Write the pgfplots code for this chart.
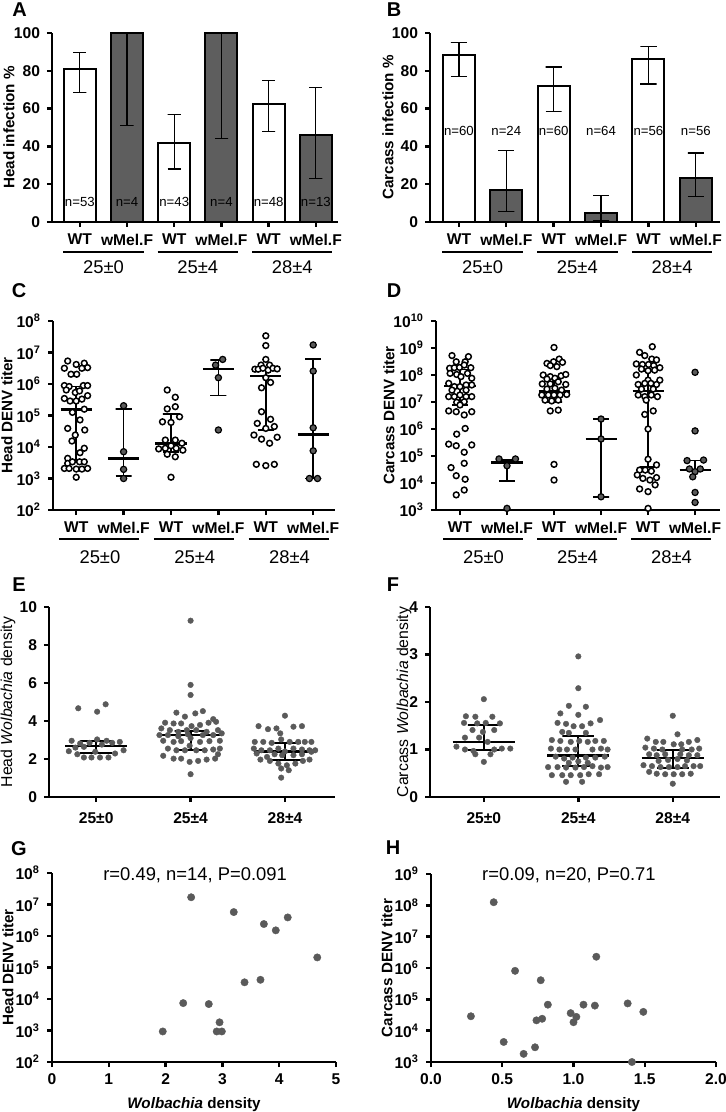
\documentclass[border=0pt]{standalone}
\usepackage{fontspec}
\setmainfont{Liberation Sans}
\usepackage{pgfplots}
\pgfplotsset{compat=1.18}
\definecolor{bargray}{HTML}{5E5E5E}
\definecolor{dotgray}{HTML}{5A5A5A}
\newcommand\tf{\bfseries\fontsize{7.8}{9}\selectfont}
\newcommand\lf{\bfseries\fontsize{7.6}{9}\selectfont}
\newcommand\rf{\fontsize{7.9}{9}\selectfont}
\newcommand\gf{\fontsize{9.2}{11}\selectfont}
\newcommand\nf{\fontsize{6.6}{8}\selectfont}
\newcommand\pf{\bfseries\fontsize{10}{12}\selectfont}
\newcommand\af{\fontsize{9.2}{11}\selectfont}
\pgfplotsset{
  base/.style={scale only axis, anchor=south west,
    axis x line*=bottom, axis y line*=left,
    axis line style={line width=1.2pt, black},
    tick align=outside, major tick length=2.5pt,
    tick style={line width=1.2pt, black},
    clip=false, tick label style={font=\tf}},
  ebar/.style={black, line width=0.8pt, mark=none, forget plot, line join=bevel},
  med/.style={black, line width=1.3pt, mark=none, forget plot},
  opn/.style={only marks, mark=*, mark size=1.45pt, mark options={fill=white, draw=black, line width=0.75pt}},
  dkd/.style={only marks, mark=*, mark size=1.55pt, mark options={fill=dotgray, draw=black, line width=0.6pt}},
  gdot/.style={only marks, mark=*, mark size=1.4pt, mark options={fill=dotgray, draw=dotgray, line width=0.2pt}},
  bdot/.style={only marks, mark=*, mark size=1.85pt, mark options={fill=dotgray, draw=dotgray, line width=0.2pt}},
}
\begin{document}
\begin{tikzpicture}
\useasboundingbox (0,0) rectangle (362.5pt,-556pt);
% panel letters
\node[font=\pf] at (9.75pt,-5pt) {A};
\node[font=\pf] at (197pt,-5pt) {B};
\node[font=\pf] at (9.5pt,-145.5pt) {C};
\node[font=\pf] at (197pt,-145.5pt) {D};
\node[font=\pf] at (9.5pt,-292.5pt) {E};
\node[font=\pf] at (196.5pt,-292.5pt) {F};
\node[font=\pf] at (9.5pt,-424.5pt) {G};
\node[font=\pf] at (196.5pt,-424pt) {H};

% ================= A =================
\begin{axis}[base, at={(26pt,-111pt)}, width=143pt, height=94.5pt,
  xmin=-0.59, xmax=5.47, ymin=0, ymax=100,
  ytick={0,20,40,60,80,100}, yticklabels={0,20,40,60,80,100},
  xtick={0,1,2,3,4,5}, xticklabels={WT,wMel.F,WT,wMel.F,WT,wMel.F}]
\addplot[ybar, bar width=16pt, bar shift=0pt, fill=white, draw=black, line width=1pt] coordinates {(0,81) (2,42) (4,62.5)};
\addplot[ybar, bar width=16pt, bar shift=0pt, fill=bargray, draw=black, line width=1pt] coordinates {(1,100) (3,100) (5,46)};
\addplot[ebar, line width=0.6pt] coordinates {(-0.14,68.5)(0.14,68.5)(0,68.5)(0,89.5)(-0.14,89.5)(0.14,89.5)};
\addplot[ebar, line width=0.6pt] coordinates {(0.86,51)(1.14,51)(1,51)(1,100)(0.86,100)(1.14,100)};
\addplot[ebar, line width=0.6pt] coordinates {(1.86,28)(2.14,28)(2,28)(2,57)(1.86,57)(2.14,57)};
\addplot[ebar, line width=0.6pt] coordinates {(2.86,44)(3.14,44)(3,44)(3,100)(2.86,100)(3.14,100)};
\addplot[ebar, line width=0.6pt] coordinates {(3.86,48)(4.14,48)(4,48)(4,75)(3.86,75)(4.14,75)};
\addplot[ebar, line width=0.6pt] coordinates {(4.86,23)(5.14,23)(5,23)(5,71)(4.86,71)(5.14,71)};
\node[font=\nf] at (axis cs:0,10.5) {n=53};
\node[font=\nf] at (axis cs:1,10.5) {n=4};
\node[font=\nf] at (axis cs:2,10.5) {n=43};
\node[font=\nf] at (axis cs:3,10.5) {n=4};
\node[font=\nf] at (axis cs:4,10.5) {n=48};
\node[font=\nf] at (axis cs:5,10.5) {n=13};
\draw[line width=0.8pt] ([yshift=-15pt]axis cs:-0.35,0) -- ([yshift=-15pt]axis cs:1.35,0);
\draw[line width=0.8pt] ([yshift=-15pt]axis cs:1.65,0) -- ([yshift=-15pt]axis cs:3.35,0);
\draw[line width=0.8pt] ([yshift=-15pt]axis cs:3.65,0) -- ([yshift=-15pt]axis cs:5.35,0);
\node[font=\gf] at ([yshift=-22.5pt]axis cs:0.5,0) {25±0};
\node[font=\gf] at ([yshift=-22.5pt]axis cs:2.5,0) {25±4};
\node[font=\gf] at ([yshift=-22.5pt]axis cs:4.5,0) {28±4};
\node[rotate=90, font=\lf] at ([xshift=-21.5pt]rel axis cs:0,0.5) {Head infection \%};
\end{axis}

% ================= B =================
\begin{axis}[base, at={(215pt,-111pt)}, width=145pt, height=94.5pt,
  xmin=-0.61, xmax=5.51, ymin=0, ymax=100,
  ytick={0,20,40,60,80,100}, yticklabels={0,20,40,60,80,100},
  xtick={0,1,2,3,4,5}, xticklabels={WT,wMel.F,WT,wMel.F,WT,wMel.F}]
\addplot[ybar, bar width=16pt, bar shift=0pt, fill=white, draw=black, line width=1pt] coordinates {(0,88.5) (2,72) (4,86)};
\addplot[ybar, bar width=16pt, bar shift=0pt, fill=bargray, draw=black, line width=1pt] coordinates {(1,17) (3,5) (5,23.5)};
\addplot[ebar, line width=0.6pt] coordinates {(-0.17,77)(0.17,77)(0,77)(0,95)(-0.17,95)(0.17,95)};
\addplot[ebar, line width=0.6pt] coordinates {(0.83,5.5)(1.17,5.5)(1,5.5)(1,38)(0.83,38)(1.17,38)};
\addplot[ebar, line width=0.6pt] coordinates {(1.83,58.5)(2.17,58.5)(2,58.5)(2,82)(1.83,82)(2.17,82)};
\addplot[ebar, line width=0.6pt] coordinates {(2.83,1)(3.17,1)(3,1)(3,14)(2.83,14)(3.17,14)};
\addplot[ebar, line width=0.6pt] coordinates {(3.83,73)(4.17,73)(4,73)(4,93)(3.83,93)(4.17,93)};
\addplot[ebar, line width=0.6pt] coordinates {(4.83,13.5)(5.17,13.5)(5,13.5)(5,36.5)(4.83,36.5)(5.17,36.5)};
\node[font=\nf] at (axis cs:0,48.3) {n=60};
\node[font=\nf] at (axis cs:1,48.3) {n=24};
\node[font=\nf] at (axis cs:2,48.3) {n=60};
\node[font=\nf] at (axis cs:3,48.3) {n=64};
\node[font=\nf] at (axis cs:4,48.3) {n=56};
\node[font=\nf] at (axis cs:5,48.3) {n=56};
\draw[line width=0.8pt] ([yshift=-15pt]axis cs:-0.35,0) -- ([yshift=-15pt]axis cs:1.35,0);
\draw[line width=0.8pt] ([yshift=-15pt]axis cs:1.65,0) -- ([yshift=-15pt]axis cs:3.35,0);
\draw[line width=0.8pt] ([yshift=-15pt]axis cs:3.65,0) -- ([yshift=-15pt]axis cs:5.35,0);
\node[font=\gf] at ([yshift=-22.5pt]axis cs:0.5,0) {25±0};
\node[font=\gf] at ([yshift=-22.5pt]axis cs:2.5,0) {25±4};
\node[font=\gf] at ([yshift=-22.5pt]axis cs:4.5,0) {28±4};
\node[rotate=90, font=\lf] at ([xshift=-21pt]rel axis cs:0,0.5) {Carcass infection \%};
\end{axis}

% ================= C =================
\begin{axis}[base, at={(26.5pt,-255pt)}, width=141pt, height=94.5pt,
  xmin=-0.49, xmax=5.46, ymin=2, ymax=8,
  ytick={2,3,4,5,6,7,8},
  yticklabels={10\textsuperscript{2},10\textsuperscript{3},10\textsuperscript{4},10\textsuperscript{5},10\textsuperscript{6},10\textsuperscript{7},10\textsuperscript{8}},
  xtick={0,1,2,3,4,5}, xticklabels={WT,wMel.F,WT,wMel.F,WT,wMel.F}]
% WT (open circles), y = log10 titer
\addplot[opn] coordinates {
(-0.18,6.73)(0,6.62)(0.17,6.66)(-0.25,6.50)(-0.11,6.31)(0.01,6.31)(0.12,6.50)(0.24,6.52)
(-0.25,5.95)(-0.15,5.92)(0.15,5.95)(0.24,5.95)(-0.02,5.73)(0.07,5.78)(-0.21,5.81)
(-0.25,5.54)(-0.13,5.46)(0,5.46)(0.12,5.52)(0.24,5.63)(-0.08,5.10)(0.17,5.20)(0.08,4.86)
(-0.18,4.59)(0.18,4.54)(-0.02,4.38)(-0.09,4.19)(0.17,3.96)(0.08,3.82)(-0.18,3.64)
(-0.18,3.48)(-0.08,3.53)(0.07,3.53)(0.17,3.53)(-0.25,3.32)(-0.15,3.32)(0,3.30)(0.12,3.30)(0.24,3.32)(0,3.04)
(1.92,5.81)(2.09,5.58)(1.92,5.21)(2.09,5.28)(1.82,4.80)(2,4.78)(2.18,4.96)(1.88,4.22)(2.09,4.22)
(2.23,4.12)(1.74,3.94)(1.88,3.96)(2,4.04)(2.11,3.96)(2.25,3.90)(1.92,3.77)(2.09,3.69)(2,3.04)
(4,7.53)(4,7.22)(4,6.78)(3.9,6.60)(4.08,6.60)(3.77,6.47)(3.84,6.47)(3.94,6.50)(4.05,6.44)(4.15,6.50)
(4.24,6.48)(4,6.20)(3.91,5.88)(4.1,6.05)(3.91,5.12)(4.1,4.88)(3.82,4.75)(4,4.59)(4.18,4.65)
(3.75,4.38)(3.91,4.25)(4.24,4.31)(4.08,4.12)(3.8,3.45)(4,3.41)(4.18,3.45)};
% wMel.F (filled)
\addplot[dkd] coordinates {(1,5.31)(1,3.85)(1,3.29)(1,3.0)
(3.09,6.78)(2.94,6.60)(3,6.2)(3,4.54)
(5,7.24)(5,6.41)(5,4.61)(5,3.88)(4.92,3.0)(5.09,3.0)};
% medians and IQR
\addplot[med] coordinates {(-0.33,5.2)(0.33,5.2)};
\addplot[med] coordinates {(0.67,3.64)(1.33,3.64)};
\addplot[med] coordinates {(1.67,4.12)(2.33,4.12)};
\addplot[med] coordinates {(2.67,6.47)(3.33,6.47)};
\addplot[med] coordinates {(3.67,6.26)(4.33,6.26)};
\addplot[med] coordinates {(4.67,4.40)(5.33,4.40)};
\addplot[ebar] coordinates {(-0.17,3.55)(0.17,3.55)(0,3.55)(0,5.92)(-0.17,5.92)(0.17,5.92)};
\addplot[ebar] coordinates {(0.83,3.08)(1.17,3.08)(1,3.08)(1,5.2)(0.83,5.2)(1.17,5.2)};
\addplot[ebar] coordinates {(1.83,3.85)(2.17,3.85)(2,3.85)(2,5.05)(1.83,5.05)(2.17,5.05)};
\addplot[ebar] coordinates {(2.83,5.63)(3.17,5.63)(3,5.63)(3,6.76)(2.83,6.76)(3.17,6.76)};
\addplot[ebar] coordinates {(3.83,4.54)(4.17,4.54)(4,4.54)(4,6.44)(3.83,6.44)(4.17,6.44)};
\addplot[ebar] coordinates {(4.83,3.0)(5.17,3.0)(5,3.0)(5,6.79)(4.83,6.79)(5.17,6.79)};
\draw[line width=0.8pt] ([yshift=-14.5pt]axis cs:-0.36,2) -- ([yshift=-14.5pt]axis cs:1.33,2);
\draw[line width=0.8pt] ([yshift=-14.5pt]axis cs:1.64,2) -- ([yshift=-14.5pt]axis cs:3.33,2);
\draw[line width=0.8pt] ([yshift=-14.5pt]axis cs:3.64,2) -- ([yshift=-14.5pt]axis cs:5.33,2);
\node[font=\gf] at ([yshift=-23.5pt]axis cs:0.5,2) {25±0};
\node[font=\gf] at ([yshift=-23.5pt]axis cs:2.5,2) {25±4};
\node[font=\gf] at ([yshift=-23.5pt]axis cs:4.5,2) {28±4};
\node[rotate=90, font=\lf] at ([xshift=-23pt]rel axis cs:0,0.5) {Head DENV titer};
\end{axis}

% ================= D =================
\begin{axis}[base, at={(218pt,-255pt)}, width=142pt, height=94.5pt,
  xmin=-0.51, xmax=5.53, ymin=3, ymax=10,
  ytick={3,4,5,6,7,8,9,10},
  yticklabels={10\textsuperscript{3},10\textsuperscript{4},10\textsuperscript{5},10\textsuperscript{6},10\textsuperscript{7},10\textsuperscript{8},10\textsuperscript{9},10\textsuperscript{10}},
  xtick={0,1,2,3,4,5}, xticklabels={WT,wMel.F,WT,wMel.F,WT,wMel.F}]
\addplot[opn] coordinates {
(-0.17,8.72)(0.18,8.68)(-0.08,8.49)(0.11,8.49)(-0.22,8.25)(-0.12,8.27)(-0.01,8.28)(0.09,8.37)(0.23,8.27)
(-0.21,8.06)(-0.07,8.02)(0.16,8.06)(0.02,7.94)(0.25,7.88)(-0.24,7.69)(-0.12,7.57)(0,7.57)(0.13,7.63)
(0.25,7.63)(-0.17,7.44)(0.13,7.44)(-0.24,7.2)(-0.12,7.2)(0,7.26)(0.13,7.2)(0.25,7.2)(-0.07,6.99)
(0.09,7.01)(0,6.89)(-0.24,6.67)(-0.08,6.64)(0.09,6.52)(0.25,6.64)(0.11,6.02)(-0.07,5.81)(-0.24,5.44)
(-0.08,5.38)(0.25,5.41)(0.09,5.14)(0.09,4.73)(-0.19,4.57)(-0.08,4.27)(0.11,4.14)(0.09,3.74)(-0.08,3.56)
(2,9.02)(1.85,8.43)(1.99,8.49)(2.11,8.59)(2.18,8.47)(1.92,8.35)(2.06,8.31)(1.77,8.0)(1.92,7.94)
(2.15,7.97)(2.25,8.02)(1.85,7.85)(2.02,7.88)(1.75,7.67)(1.92,7.67)(2.09,7.75)(2.25,7.65)(1.85,7.48)
(2.02,7.51)(2.16,7.44)(1.74,7.26)(1.88,7.26)(2,7.26)(2.13,7.26)(2.27,7.28)(1.81,7.07)(1.95,7.04)
(2.09,7.07)(1.92,6.67)(2.09,6.70)(2,4.69)(2,4.11)
(4.09,9.05)(3.82,8.84)(3.93,8.72)(4.08,8.59)(4.18,8.56)(3.75,8.41)(3.88,8.39)(4.01,8.39)(4.12,8.35)
(4.25,8.27)(3.86,8.22)(4,8.16)(4.14,8.18)(3.75,8.0)(4,7.81)(4.25,7.81)(3.79,7.65)(3.93,7.69)(4.06,7.69)
(4.18,7.65)(3.86,7.48)(4.11,7.48)(3.79,7.26)(3.93,7.2)(4.07,7.26)(4.2,7.2)(3.96,7.07)(3.93,6.54)
(4.11,6.67)(4,6.0)(4,4.88)(4.18,4.67)(3.82,4.48)(3.94,4.48)(4.07,4.44)(3.77,4.3)(3.89,4.17)(4.04,4.11)
(4.18,4.2)(4.15,3.93)(3.82,3.78)(4,3.68)(4,3.06)};
\addplot[dkd] coordinates {(0.83,4.89)(1.18,4.89)(1,4.64)(1,3.06)
(3,6.37)(3,5.63)(3,3.49)
(5,8.1)(5,5.93)(4.83,4.83)(5.18,4.85)(4.88,4.52)(5,4.42)(5.11,4.52)(4.95,4.23)(5,3.65)(5,3.28)};
\addplot[med] coordinates {(-0.33,7.59)(0.33,7.59)};
\addplot[med] coordinates {(0.67,4.77)(1.33,4.77)};
\addplot[med] coordinates {(1.67,7.38)(2.33,7.38)};
\addplot[med] coordinates {(2.67,5.63)(3.33,5.63)};
\addplot[med] coordinates {(3.67,7.41)(4.33,7.41)};
\addplot[med] coordinates {(4.67,4.48)(5.33,4.48)};
\addplot[ebar] coordinates {(-0.17,6.9)(0.17,6.9)(0,6.9)(0,8.2)(-0.17,8.2)(0.17,8.2)};
\addplot[ebar] coordinates {(0.83,4.08)(1.17,4.08)(1,4.08)(1,4.85)(0.83,4.85)(1.17,4.85)};
\addplot[ebar] coordinates {(1.83,7.0)(2.17,7.0)(2,7.0)(2,7.92)(1.83,7.92)(2.17,7.92)};
\addplot[ebar] coordinates {(2.83,3.49)(3.17,3.49)(3,3.49)(3,6.37)(2.83,6.37)(3.17,6.37)};
\addplot[ebar] coordinates {(3.83,4.6)(4.17,4.6)(4,4.6)(4,8.15)(3.83,8.15)(4.17,8.15)};
\addplot[ebar] coordinates {(4.83,4.42)(5.17,4.42)(5,4.42)(5,4.83)(4.83,4.83)(5.17,4.83)};
\draw[line width=0.8pt] ([yshift=-14.5pt]axis cs:-0.36,3) -- ([yshift=-14.5pt]axis cs:1.33,3);
\draw[line width=0.8pt] ([yshift=-14.5pt]axis cs:1.64,3) -- ([yshift=-14.5pt]axis cs:3.33,3);
\draw[line width=0.8pt] ([yshift=-14.5pt]axis cs:3.64,3) -- ([yshift=-14.5pt]axis cs:5.33,3);
\node[font=\gf] at ([yshift=-23.5pt]axis cs:0.5,3) {25±0};
\node[font=\gf] at ([yshift=-23.5pt]axis cs:2.5,3) {25±4};
\node[font=\gf] at ([yshift=-23.5pt]axis cs:4.5,3) {28±4};
\node[rotate=90, font=\lf] at ([xshift=-23.5pt]rel axis cs:0,0.5) {Carcass DENV titer};
\end{axis}

% ================= E =================
\begin{axis}[base, at={(24.5pt,-398.5pt)}, width=143pt, height=95pt,
  xmin=-0.5, xmax=2.53, ymin=0, ymax=10,
  ytick={0,2,4,6,8,10}, yticklabels={0,2,4,6,8,10},
  xtick={0,1,2}, xticklabels={25±0,25±4,28±4},
  xticklabel style={yshift=-2pt}]
\addplot[gdot] coordinates {
(-0.19,4.67)(0.01,4.49)(0.1,4.88)(-0.26,2.96)(-0.17,2.82)(-0.07,2.85)(0.01,3.03)(0.11,2.96)(-0.29,2.41)
(-0.13,2.64)(0.06,2.76)(0.17,2.85)(0.25,2.9)(0.29,2.46)(-0.2,2.25)(-0.13,2.08)(-0.05,2.08)(0.04,2.08)
(0.13,2.08)(0.2,2.29)(-0.01,2.38)(-0.22,2.6)
(1,9.28)(1,5.9)(1,5.37)(0.85,4.44)(0.94,4.23)(1.05,4.4)(1.13,4.52)(1.24,4.1)(0.73,3.91)(0.82,3.87)
(0.9,3.87)(1.01,3.73)(1.1,3.79)(1.19,3.91)(1.27,3.96)(0.69,3.61)(0.78,3.52)(0.87,3.43)(0.96,3.52)
(1.06,3.52)(1.17,3.43)(1.29,3.52)(0.67,3.26)(0.76,3.26)(1.13,3.26)(1.24,3.26)(1.33,3.35)(0.71,2.96)
(0.82,2.9)(0.9,2.94)(1.1,2.9)(1.2,2.94)(1.31,2.96)(0.76,2.55)(0.85,2.46)(0.94,2.46)(1.06,2.46)
(1.15,2.46)(1.24,2.5)(1.31,2.55)(0.71,2.17)(0.82,2.02)(0.9,2.02)(0.99,1.85)(1.08,1.9)(1.17,1.97)
(1.26,2.02)(1.29,2.25)(1,1.2)(0.99,2.7)(1.0,3.1)(0.87,3.2)(0.97,3.3)
(2,4.28)(1.72,3.73)(1.82,3.57)(1.91,3.61)(2.09,3.7)(2.18,3.73)(1.95,3.35)(1.77,2.9)(1.68,2.9)
(1.86,2.85)(1.96,3.03)(2.05,2.9)(2.14,2.9)(2.21,2.9)(2.28,2.9)(1.67,2.55)(1.75,2.46)(1.84,2.46)
(1.93,2.55)(2.09,2.55)(2.18,2.5)(2.26,2.46)(2.32,2.46)(1.7,2.29)(1.81,2.11)(1.89,2.25)(2.09,2.2)
(2.18,2.25)(2.28,2.38)(1.74,1.97)(1.84,1.9)(1.93,1.76)(2.02,1.67)(2.11,1.76)(2.19,1.9)(2.26,1.97)
(1.96,1.5)(2.04,1.41)(1.96,1.02)(2.0,2.4)(1.97,2.2)};
\addplot[med] coordinates {(-0.33,2.68)(0.33,2.68)};
\addplot[med] coordinates {(0.67,3.26)(1.33,3.26)};
\addplot[med] coordinates {(1.67,2.38)(2.33,2.38)};
\addplot[ebar, line width=1pt] coordinates {(-0.17,2.29)(0.17,2.29)(0,2.29)(0,2.96)(-0.17,2.96)(0.17,2.96)};
\addplot[ebar, line width=1pt] coordinates {(0.83,2.45)(1.17,2.45)(1,2.45)(1,3.47)(0.83,3.47)(1.17,3.47)};
\addplot[ebar, line width=1pt] coordinates {(1.83,1.97)(2.17,1.97)(2,1.97)(2,2.85)(1.83,2.85)(2.17,2.85)};
\node[rotate=90, font=\rf] at ([xshift=-20.5pt]rel axis cs:0,0.5) {Head \textit{Wolbachia} density};
\end{axis}

% ================= F =================
\begin{axis}[base, at={(215pt,-398.5pt)}, width=145pt, height=95pt,
  xmin=-0.57, xmax=2.5, ymin=0, ymax=4,
  ytick={0,1,2,3,4}, yticklabels={0,1,2,3,4},
  xtick={0,1,2}, xticklabels={25±0,25±4,28±4},
  xticklabel style={yshift=-2pt}]
\addplot[gdot] coordinates {
(0,2.06)(-0.19,1.70)(-0.09,1.69)(0.09,1.69)(-0.21,1.56)(-0.07,1.55)(0.02,1.56)(0.17,1.55)(-0.12,1.41)
(-0.01,1.37)(0.11,1.41)(-0.2,1.25)(-0.05,1.25)(0.04,1.16)(-0.29,1.06)(-0.2,1.0)(-0.11,0.97)(0.11,1.0)
(0.19,1.02)(0.28,1.02)(-0.09,0.9)(0.07,0.9)(0,0.74)
(1,2.96)(1,2.29)(0.9,1.92)(1.08,1.9)(0.81,1.76)(1,1.73)(1.23,1.62)(0.78,1.56)(0.87,1.54)(0.95,1.49)
(1.04,1.49)(1.13,1.55)(0.83,1.37)(0.9,1.35)(1.08,1.35)(0.72,1.2)(0.81,1.18)(0.92,1.16)(1.01,1.18)
(1.1,1.16)(1.18,1.18)(1.27,1.18)(0.71,1.02)(0.8,1.0)(0.88,1.0)(0.97,1.0)(1.15,1.0)(1.24,1.02)
(1.31,1.0)(0.76,0.85)(0.85,0.81)(0.94,0.83)(1.08,0.83)(1.18,0.83)(1.28,0.85)(0.68,0.63)(0.78,0.63)
(0.87,0.62)(0.97,0.62)(1.06,0.63)(1.15,0.65)(1.24,0.62)(1.31,0.63)(0.72,0.46)(0.83,0.46)(0.92,0.46)
(1.02,0.46)(1.11,0.48)(1.22,0.48)(0.87,0.32)(1.04,0.32)(1.0,0.75)(0.9,0.72)(1.1,0.72)
(2,1.71)(1.73,1.23)(1.82,1.16)(1.9,1.16)(2.05,1.32)(2.17,1.16)(2.26,1.2)(2.01,1.11)(2.09,1.11)
(1.71,1.04)(1.8,1.02)(1.89,1.0)(2.1,1.0)(2.2,1.0)(2.28,1.02)(1.75,0.9)(1.83,0.88)(1.92,0.9)(2.08,0.9)
(2.17,0.88)(2.26,0.88)(1.69,0.67)(1.78,0.65)(1.87,0.63)(1.96,0.63)(2.05,0.63)(2.13,0.65)(2.22,0.65)
(2.29,0.65)(1.75,0.53)(1.83,0.49)(1.92,0.48)(2.01,0.48)(2.1,0.48)(2.19,0.49)(2,0.28)(1.95,0.78)
(2.05,0.8)(1.85,0.76)(2.15,0.77)};
\addplot[med] coordinates {(-0.33,1.16)(0.33,1.16)};
\addplot[med] coordinates {(0.67,0.88)(1.33,0.88)};
\addplot[med] coordinates {(1.67,0.82)(2.33,0.82)};
\addplot[ebar, line width=1pt] coordinates {(-0.17,0.99)(0.17,0.99)(0,0.99)(0,1.51)(-0.17,1.51)(0.17,1.51)};
\addplot[ebar, line width=1pt] coordinates {(0.83,0.65)(1.17,0.65)(1,0.65)(1,1.28)(0.83,1.28)(1.17,1.28)};
\addplot[ebar, line width=1pt] coordinates {(1.83,0.62)(2.17,0.62)(2,0.62)(2,1.0)(1.83,1.0)(2.17,1.0)};
\node[rotate=90, font=\rf] at ([xshift=-13pt]rel axis cs:0,0.5) {Carcass \textit{Wolbachia} density};
\end{axis}

% ================= G =================
\begin{axis}[base, at={(26pt,-531pt)}, width=142pt, height=94.5pt,
  xmin=0, xmax=5, ymin=2, ymax=8,
  ytick={2,3,4,5,6,7,8},
  yticklabels={10\textsuperscript{2},10\textsuperscript{3},10\textsuperscript{4},10\textsuperscript{5},10\textsuperscript{6},10\textsuperscript{7},10\textsuperscript{8}},
  xtick={0,1,2,3,4,5}, xticklabels={0,1,2,3,4,5}]
\addplot[bdot] coordinates {(1.95,2.97)(2.31,3.87)(2.45,7.23)(2.76,3.84)(2.95,3.26)(2.9,2.97)(2.99,2.97)
(3.2,6.76)(3.39,4.53)(3.67,4.61)(3.73,6.38)(3.94,6.18)(4.15,6.59)(4.67,5.32)};
\node[font=\af] at (rel axis cs:0.504,0.99) {r=0.49, n=14, P=0.091};
\node[font=\lf] at ([yshift=-21.5pt]rel axis cs:0.5,0) {\textit{Wolbachia} density};
\node[rotate=90, font=\lf] at ([xshift=-22pt]rel axis cs:0,0.5) {Head DENV titer};
\end{axis}

% ================= H =================
\begin{axis}[base, at={(215.5pt,-531pt)}, width=142.5pt, height=94pt,
  xmin=0, xmax=2, ymin=3, ymax=9,
  ytick={3,4,5,6,7,8,9},
  yticklabels={10\textsuperscript{3},10\textsuperscript{4},10\textsuperscript{5},10\textsuperscript{6},10\textsuperscript{7},10\textsuperscript{8},10\textsuperscript{9}},
  xtick={0,0.5,1,1.5,2}, xticklabels={0.0,0.5,1.0,1.5,2.0}]
\addplot[bdot] coordinates {(0.28,4.46)(0.44,8.10)(0.51,3.64)(0.59,5.91)(0.65,3.26)(0.73,3.47)(0.74,4.33)
(0.77,5.61)(0.78,4.38)(0.82,4.83)(0.98,4.56)(1.0,4.27)(1.02,4.44)(1.07,4.83)(1.15,4.80)(1.16,6.36)
(1.38,4.87)(1.41,3.0)(1.49,4.60)};
\node[font=\af] at (rel axis cs:0.484,0.995) {r=0.09, n=20, P=0.71};
\node[font=\lf] at ([yshift=-21.5pt]rel axis cs:0.5,0) {\textit{Wolbachia} density};
\node[rotate=90, font=\lf] at ([xshift=-22pt]rel axis cs:0,0.5) {Carcass DENV titer};
\end{axis}
\end{tikzpicture}
\end{document}
